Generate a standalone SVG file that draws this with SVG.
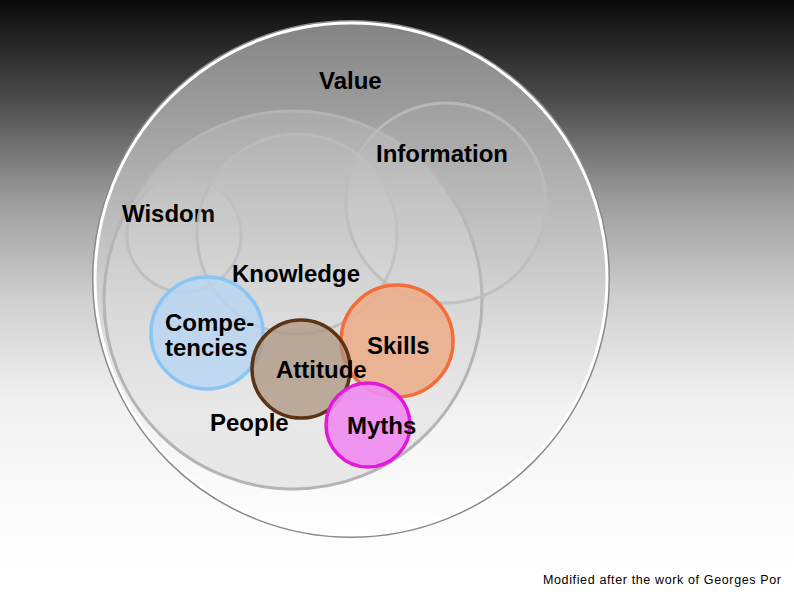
<svg xmlns="http://www.w3.org/2000/svg" width="794" height="595" viewBox="0 0 794 595">
  <defs>
    <linearGradient id="bg" x1="0" y1="0" x2="0" y2="1">
      <stop offset="0" stop-color="#0a0a0a"/>
      <stop offset="0.168" stop-color="#4c4c4c"/>
      <stop offset="0.336" stop-color="#9c9c9c"/>
      <stop offset="0.504" stop-color="#d0d0d0"/>
      <stop offset="0.672" stop-color="#f0f0f0"/>
      <stop offset="0.84" stop-color="#fbfbfb"/>
      <stop offset="1" stop-color="#ffffff"/>
    </linearGradient>
    <linearGradient id="valueFill" x1="0" y1="0" x2="0" y2="1">
      <stop offset="0" stop-color="#838383"/>
      <stop offset="0.75" stop-color="#f2f2f2"/>
      <stop offset="1" stop-color="#ffffff"/>
    </linearGradient>
    <linearGradient id="peopleFill" x1="0" y1="0" x2="0" y2="1">
      <stop offset="0" stop-color="#ffffff" stop-opacity="0.12"/>
      <stop offset="1" stop-color="#c4c4c4" stop-opacity="0.35"/>
    </linearGradient>
  </defs>
  <style>
    .lbl { font-family: "Liberation Sans", Arial, sans-serif; font-weight: bold; font-size: 24px; fill: #000; }
    .ghost { fill: #ffffff; fill-opacity: 0.05; stroke: #bcbcbc; stroke-opacity: 0.85; stroke-width: 3; }
    .note { font-family: "Liberation Sans", Arial, sans-serif; font-size: 12.5px; fill: #000; }
  </style>
  <rect x="0" y="0" width="794" height="595" fill="url(#bg)"/>

  <g id="value">
    <circle cx="351" cy="279" r="258" fill="url(#valueFill)" stroke="#8a8a8a" stroke-width="2"/>
    <circle cx="351" cy="279" r="256" fill="none" stroke="#ffffff" stroke-width="3"/>
    <text class="lbl" x="319" y="89">Value</text>
  </g>

  <g id="people">
    <circle cx="293" cy="300" r="189" fill="url(#peopleFill)" stroke="#b4b4b4" stroke-width="3"/>
    <text class="lbl" x="210" y="431">People</text>
  </g>

  <g id="wisdom">
    <circle class="ghost" cx="184" cy="235" r="57"/>
    <text class="lbl" x="122" y="222">Wisdom</text>
  </g>

  <g id="knowledge">
    <circle class="ghost" cx="297" cy="234" r="100"/>
    <text class="lbl" x="232" y="282">Knowledge</text>
  </g>

  <g id="information">
    <circle class="ghost" cx="446" cy="203" r="100"/>
    <text class="lbl" x="376" y="162">Information</text>
  </g>

  <g id="competencies">
    <circle cx="207" cy="333" r="56" fill="#b6d6f2" fill-opacity="0.8" stroke="#88c6f6" stroke-width="3.5"/>
    <text class="lbl" x="165" y="331">Compe-</text>
    <text class="lbl" x="165" y="356">tencies</text>
  </g>

  <g id="skills">
    <circle cx="397" cy="341" r="56" fill="#ebaf8c" fill-opacity="0.9" stroke="#f36c3a" stroke-width="3.5"/>
    <text class="lbl" x="367" y="354">Skills</text>
  </g>

  <g id="attitude">
    <circle cx="301" cy="369" r="49" fill="#ac9580" fill-opacity="0.75" stroke="#5c3313" stroke-width="3.5"/>
    <text class="lbl" x="276" y="378">Attitude</text>
  </g>

  <g id="myths">
    <circle cx="368" cy="425" r="42" fill="#ef8cf0" fill-opacity="0.92" stroke="#e21ad8" stroke-width="3.5"/>
    <text class="lbl" x="347" y="434">Myths</text>
  </g>

  <g id="credit">
    <text class="note" x="543" y="584" textLength="238" lengthAdjust="spacing">Modified after the work of Georges Por</text>
  </g>
</svg>
